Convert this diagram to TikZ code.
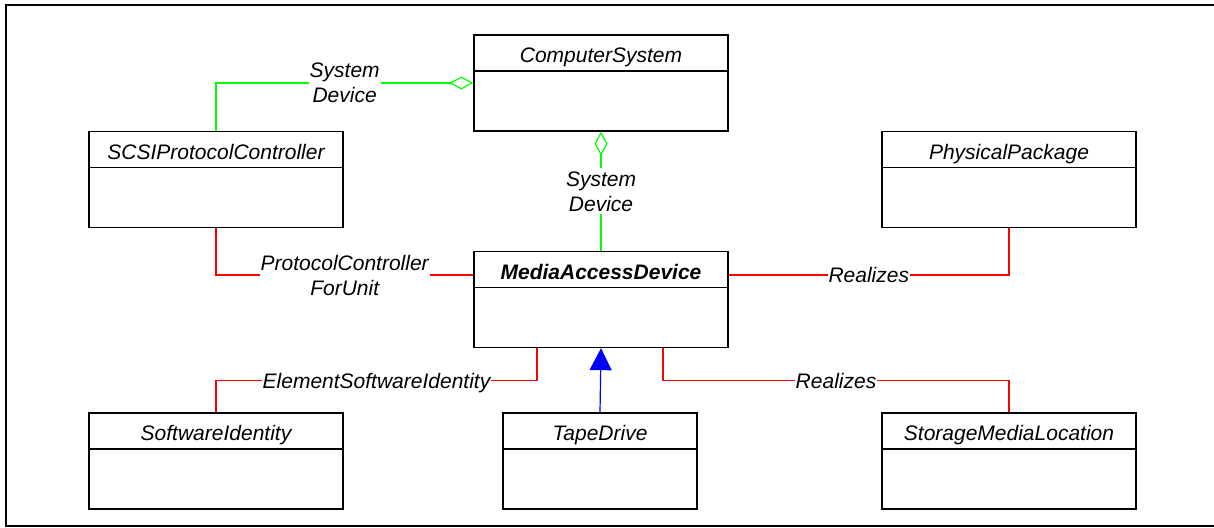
\documentclass[tikz,border=0pt]{standalone}
\usepackage{fontspec}
\setmainfont{Liberation Sans}
\usetikzlibrary{arrows.meta}

\definecolor{assocgreen}{RGB}{0,255,0}
\definecolor{assocred}{RGB}{255,0,0}

\begin{document}
\begin{tikzpicture}[x=1pt, y=-1pt, line width=1.2pt,
	font=\fontsize{21}{25}\selectfont\itshape,
	classbox/.style={draw, line width=1.3pt, minimum width=254pt, minimum height=96pt, inner sep=0pt},
	classhead/.style={draw, line width=1.3pt, anchor=north, minimum width=254pt, minimum height=36pt,
		inner sep=0pt, text height=19pt, text depth=0pt},
	assoclabel/.style={fill=white, text=black, inner xsep=1pt, inner ysep=3pt, align=center, text depth=0pt},
	aggtip/.style={-{Diamond[open, length=24pt, width=13pt]}}]
	\fill[white] (0,0) rectangle (1214,527);
	\useasboundingbox (0,0) rectangle (1214,527);
	\draw[line width=2pt] (1214,5) -- (6,5) -- (6,526) -- (1214,526);

	\node[classbox] (cs) at (601,83) {};
	\node[classhead] (csh) at (cs.north) {ComputerSystem};
	\node[classbox] (scsi) at (216,179.5) {};
	\node[classhead] (scsih) at (scsi.north) {SCSIProtocolController};
	\node[classbox] (pp) at (1009,179.5) {};
	\node[classhead] (pph) at (pp.north) {PhysicalPackage};
	\node[classbox] (mad) at (601,299.5) {};
	\node[classhead] (madh) at (mad.north) {\bfseries MediaAccessDevice};
	\node[classbox] (si) at (216,461) {};
	\node[classhead] (sih) at (si.north) {SoftwareIdentity};
	\node[classbox, minimum width=194pt] (td) at (600,461) {};
	\node[classhead, minimum width=194pt] (tdh) at (td.north) {TapeDrive};
	\node[classbox] (sml) at (1009,461) {};
	\node[classhead] (smlh) at (sml.north) {StorageMediaLocation};

	\draw[assocgreen, aggtip] (scsi.north) |- node[pos=0.75, assoclabel] {System\\Device} (cs.west);
	\draw[assocgreen, aggtip] (mad.north) -- node[assoclabel] {System\\Device} (cs.south);
	\draw[assocred] (scsi.south) |- node[pos=0.75, assoclabel] {ProtocolController\\ForUnit} ([yshift=-5.5pt]madh.west);
	\draw[assocred] ([yshift=-5.5pt]madh.east) -| node[pos=0.25, assoclabel] {Realizes} (pp.south);
	\draw[assocred] ([xshift=-64pt]mad.south) -- ++(0,32.5) -| node[pos=0.25, assoclabel] {ElementSoftwareIdentity} (si.north);
	\draw[assocred] ([xshift=62pt]mad.south) -- ++(0,32.5) -| node[pos=0.25, assoclabel] {Realizes} (sml.north);
	\draw[blue, -{Triangle[length=22pt, width=22pt]}] (td.north) -- (mad.south);
\end{tikzpicture}
\end{document}
